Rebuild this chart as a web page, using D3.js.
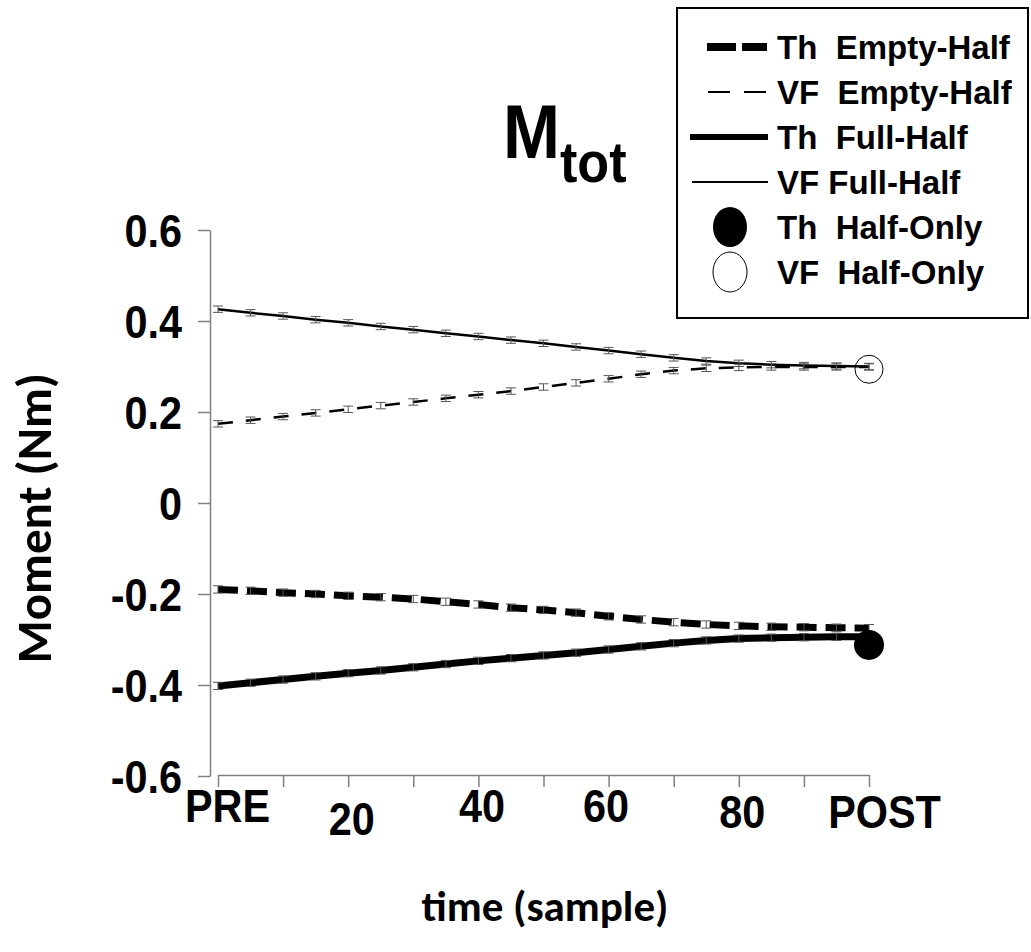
<!DOCTYPE html>
<html>
<head>
<meta charset="utf-8">
<script src="https://cdn.jsdelivr.net/npm/d3@7"></script>
<style>
  html, body { margin: 0; padding: 0; background: #fff; }
  svg { display: block; }
  .tick text, .title, .legend text { font-family: "Liberation Sans", Arial, sans-serif; font-weight: bold; fill: #000; }
  .axis-title { font-family: Carlito, Lato, "Open Sans", sans-serif; font-weight: bold; fill: #000; }
  .axis path, .axis line { stroke: #808080; stroke-width: 1.5; }
</style>
</head>
<body>
<div id="chart"></div>
<script>
/* M_tot moment traces, PRE to POST, with SE bars every 5 samples */

var samples = [0, 5, 10, 15, 20, 25, 30, 35, 40, 45, 50, 55, 60, 65, 70, 75, 80, 85, 90, 95, 100];

var thEmpty = [-0.190, -0.193, -0.197, -0.200, -0.204, -0.207, -0.211, -0.217, -0.223, -0.230, -0.235,
               -0.241, -0.249, -0.256, -0.262, -0.267, -0.270, -0.272, -0.273, -0.274, -0.275];
var vfEmpty = [0.174, 0.182, 0.190, 0.198, 0.206, 0.214, 0.222, 0.230, 0.238, 0.246, 0.255,
               0.264, 0.273, 0.283, 0.291, 0.296, 0.298, 0.299, 0.299, 0.299, 0.299];
var thFull  = [-0.402, -0.395, -0.388, -0.381, -0.374, -0.368, -0.361, -0.354, -0.347, -0.341, -0.335,
               -0.329, -0.322, -0.315, -0.308, -0.302, -0.298, -0.296, -0.295, -0.294, -0.294];
var vfFull  = [0.426, 0.418, 0.411, 0.403, 0.396, 0.388, 0.381, 0.373, 0.366, 0.358, 0.351,
               0.343, 0.335, 0.327, 0.319, 0.312, 0.307, 0.304, 0.302, 0.301, 0.300];

var thEmptySE = [0.008, 0.008, 0.008, 0.008, 0.008, 0.008, 0.008, 0.008, 0.008, 0.008, 0.008,
                 0.008, 0.008, 0.008, 0.008, 0.008, 0.008, 0.008, 0.008, 0.008, 0.008];
var vfEmptySE = [0.007, 0.007, 0.007, 0.007, 0.007, 0.007, 0.007, 0.007, 0.007, 0.007, 0.007,
                 0.007, 0.007, 0.007, 0.007, 0.007, 0.007, 0.007, 0.007, 0.007, 0.007];
var thFullSE  = [0.008, 0.008, 0.008, 0.008, 0.008, 0.008, 0.008, 0.008, 0.008, 0.008, 0.008,
                 0.008, 0.008, 0.008, 0.008, 0.008, 0.008, 0.008, 0.008, 0.008, 0.008];
var vfFullSE  = [0.007, 0.007, 0.007, 0.007, 0.007, 0.007, 0.007, 0.007, 0.007, 0.007, 0.007,
                 0.007, 0.007, 0.007, 0.007, 0.007, 0.007, 0.007, 0.007, 0.007, 0.007];

var halfOnlySample = 100;
var thHalfOnly = -0.312;
var vfHalfOnly = 0.294;

var xTickValues = [0, 10, 20, 30, 40, 50, 60, 70, 80, 90, 100];
var xTickLabels = {0: "PRE", 20: "20", 40: "40", 60: "60", 80: "80", 100: "POST"};
var yTickValues = [-0.6, -0.4, -0.2, 0, 0.2, 0.4, 0.6];
var yTickLabels = ["-0.6", "-0.4", "-0.2", "0", "0.2", "0.4", "0.6"];

var legendLabels = ["Th  Empty-Half", "VF  Empty-Half", "Th  Full-Half", "VF Full-Half", "Th  Half-Only", "VF  Half-Only"];

var width = 1031, height = 952;
var squeeze = 0.9; /* tick labels and title are a bit narrower than plain Arial */

function translate(x, y) { return "translate(" + x + "," + y + ")"; }

var svg = d3.select("#chart").append("svg")
    .attr("width", width)
    .attr("height", height);

var x = d3.scaleLinear().domain([0, 100]).range([218, 869]);
var y = d3.scaleLinear().domain([-0.6, 0.6]).range([776, 230]);

/* y axis sits a little left of where the x axis starts */
var yAxis = d3.axisLeft(y)
    .tickValues(yTickValues)
    .tickFormat(function(d, i) { return yTickLabels[i]; })
    .tickSize(12).tickSizeOuter(0).tickPadding(16);

svg.append("g")
    .attr("class", "axis y")
    .attr("transform", translate(210, 0))
    .call(yAxis)
    .selectAll(".tick text")
    .style("font-size", "46px")
    .attr("x", 0)
    .attr("dy", "0.36em")
    .attr("transform", translate(-28, 0) + " scale(" + squeeze + ",1)");

var xAxis = d3.axisBottom(x)
    .tickValues(xTickValues)
    .tickFormat(function(d) { return xTickLabels[d] || ""; })
    .tickSize(12).tickSizeOuter(0);

/* the labels in the original are not all on one baseline */
var labelShift = {0: [9, 47], 20: [3, 60], 40: [3, 47], 60: [-3, 47], 80: [3, 53], 100: [15, 53]};

svg.append("g")
    .attr("class", "axis x")
    .attr("transform", translate(0, 775))
    .call(xAxis)
    .selectAll(".tick text")
    .style("font-size", "46px")
    .attr("dy", null)
    .attr("y", 0)
    .attr("transform", function(d) {
        var s = labelShift[d] || [0, 0];
        return translate(s[0], s[1]) + " scale(" + squeeze + ",1)";
    });

/* series */
var series = [
    {vals: thEmpty, se: thEmptySE, w: 7, dash: "20,9"},
    {vals: vfEmpty, se: vfEmptySE, w: 2.5, dash: "15,13"},
    {vals: thFull, se: thFullSE, w: 7, dash: null},
    {vals: vfFull, se: vfFullSE, w: 2.5, dash: null}
];

var line = d3.line()
    .x(function(d, i) { return x(samples[i]); })
    .y(function(d) { return y(d); });

var plot = svg.append("g");

series.forEach(function(s) {
    plot.append("path")
        .datum(s.vals)
        .attr("d", line)
        .attr("fill", "none")
        .attr("stroke", "#000")
        .attr("stroke-width", s.w)
        .attr("stroke-dasharray", s.dash);
});

/* error bars on top */
series.forEach(function(s) {
    var eb = plot.append("g").selectAll("g")
        .data(s.vals)
      .enter().append("g")
        .attr("stroke", "#555")
        .attr("stroke-width", 1);
    eb.append("line")
        .attr("x1", function(d, i) { return x(samples[i]); })
        .attr("x2", function(d, i) { return x(samples[i]); })
        .attr("y1", function(d, i) { return y(d + s.se[i]); })
        .attr("y2", function(d, i) { return y(d - s.se[i]); });
    [1, -1].forEach(function(sign) {
        eb.append("line")
            .attr("x1", function(d, i) { return x(samples[i]) - 5; })
            .attr("x2", function(d, i) { return x(samples[i]) + 5; })
            .attr("y1", function(d, i) { return y(d + sign * s.se[i]); })
            .attr("y2", function(d, i) { return y(d + sign * s.se[i]); });
    });
});

plot.append("circle")
    .attr("cx", x(halfOnlySample)).attr("cy", y(thHalfOnly)).attr("r", 15)
    .attr("fill", "#000");
plot.append("circle")
    .attr("cx", x(halfOnlySample)).attr("cy", y(vfHalfOnly)).attr("r", 14)
    .attr("fill", "none").attr("stroke", "#000").attr("stroke-width", 1);

/* title M_tot */
var title = svg.append("text")
    .attr("class", "title")
    .attr("transform", translate(503, 158) + " scale(" + squeeze + ",1)")
    .style("font-size", "76px")
    .text("M");
title.append("tspan")
    .attr("dy", 24)
    .style("font-size", "58px")
    .text("tot");

/* axis titles */
svg.append("text")
    .attr("class", "axis-title")
    .attr("transform", translate(51, 518) + " rotate(-90)")
    .attr("text-anchor", "middle")
    .style("font-size", "49px")
    .text("Moment (Nm)");

svg.append("text")
    .attr("class", "axis-title")
    .attr("x", 545).attr("y", 921)
    .attr("text-anchor", "middle")
    .style("font-size", "43px")
    .text("time (sample)");

/* legend */
var legend = svg.append("g").attr("class", "legend");
legend.append("rect")
    .attr("x", 677).attr("y", 8)
    .attr("width", 351).attr("height", 310)
    .attr("fill", "#fff").attr("stroke", "#000").attr("stroke-width", 2);

var rowY = function(i) { return 47 + i * 45; };

legend.append("line").attr("x1", 707).attr("x2", 767).attr("y1", rowY(0)).attr("y2", rowY(0))
    .attr("stroke", "#000").attr("stroke-width", 8).attr("stroke-dasharray", "29,6");
legend.append("line").attr("x1", 708).attr("x2", 766).attr("y1", rowY(1)).attr("y2", rowY(1))
    .attr("stroke", "#000").attr("stroke-width", 2).attr("stroke-dasharray", "22,14");
legend.append("line").attr("x1", 690).attr("x2", 768).attr("y1", rowY(2)).attr("y2", rowY(2))
    .attr("stroke", "#000").attr("stroke-width", 6);
legend.append("line").attr("x1", 692).attr("x2", 768).attr("y1", rowY(3)).attr("y2", rowY(3))
    .attr("stroke", "#000").attr("stroke-width", 2);
legend.append("ellipse").attr("cx", 730).attr("cy", rowY(4)).attr("rx", 17).attr("ry", 20)
    .attr("fill", "#000");
legend.append("ellipse").attr("cx", 730).attr("cy", rowY(5)).attr("rx", 17).attr("ry", 20)
    .attr("fill", "#fff").attr("stroke", "#000").attr("stroke-width", 1);

legend.selectAll("text.lab")
    .data(legendLabels)
  .enter().append("text")
    .attr("class", "lab")
    .attr("x", 777)
    .attr("y", function(d, i) { return rowY(i) + 12; })
    .style("font-size", "33px")
    .style("white-space", "pre")
    .text(function(d) { return d; });
</script>
</body>
</html>
